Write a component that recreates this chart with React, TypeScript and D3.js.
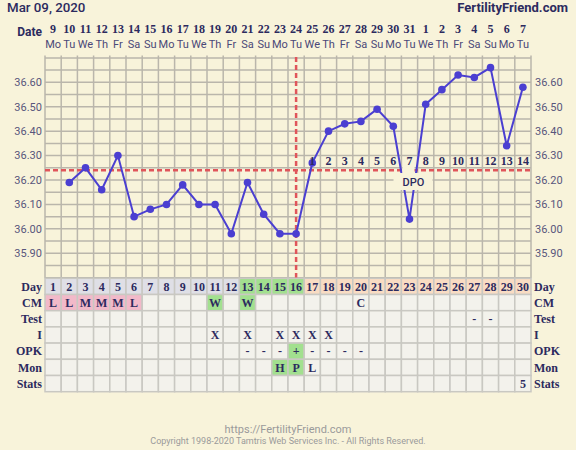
import React from 'react';
import * as d3 from 'd3';

const title = 'Mar 09, 2020';
const site = 'FertilityFriend.com';
const dates = ['9', '10', '11', '12', '13', '14', '15', '16', '17', '18', '19', '20', '21', '22', '23', '24', '25', '26', '27', '28', '29', '30', '31', '1', '2', '3', '4', '5', '6', '7'];
const weekdays = ['Mo', 'Tu', 'We', 'Th', 'Fr', 'Sa', 'Su', 'Mo', 'Tu', 'We', 'Th', 'Fr', 'Sa', 'Su', 'Mo', 'Tu', 'We', 'Th', 'Fr', 'Sa', 'Su', 'Mo', 'Tu', 'We', 'Th', 'Fr', 'Sa', 'Su', 'Mo', 'Tu'];
const cycleDays = ['1', '2', '3', '4', '5', '6', '7', '8', '9', '10', '11', '12', '13', '14', '15', '16', '17', '18', '19', '20', '21', '22', '23', '24', '25', '26', '27', '28', '29', '30'];
const temps: (number | null)[] = [null, 36.19, 36.25, 36.16, 36.30, 36.05, 36.08, 36.10, 36.18, 36.10, 36.10, 35.98, 36.19, 36.06, 35.98, 35.98, 36.27, 36.40, 36.43, 36.44, 36.49, 36.42, 36.04, 36.51, 36.57, 36.63, 36.62, 36.66, 36.34, 36.58];
const dpo = ['', '', '', '', '', '', '', '', '', '', '', '', '', '', '', '', '1', '2', '3', '4', '5', '6', '7', '8', '9', '10', '11', '12', '13', '14'];
const yTicks = [35.9, 36.0, 36.1, 36.2, 36.3, 36.4, 36.5, 36.6];
const coverline = 36.24;
const ovulationDay = 16;
const fertileDays = [13, 14, 15, 16];

const rowNames = ['CM', 'Test', 'I', 'OPK', 'Mon', 'Stats'];
const cmRow = ['L', 'L', 'M', 'M', 'M', 'L', '', '', '', '', 'W', '', 'W', '', '', '', '', '', '', 'C', '', '', '', '', '', '', '', '', '', ''];
const testRow = ['', '', '', '', '', '', '', '', '', '', '', '', '', '', '', '', '', '', '', '', '', '', '', '', '', '', '-', '-', '', ''];
const iRow = ['', '', '', '', '', '', '', '', '', '', 'X', '', 'X', '', 'X', 'X', 'X', 'X', '', '', '', '', '', '', '', '', '', '', '', ''];
const opkRow = ['', '', '', '', '', '', '', '', '', '', '', '', '-', '-', '-', '+', '-', '-', '-', '-', '', '', '', '', '', '', '', '', '', ''];
const monRow = ['', '', '', '', '', '', '', '', '', '', '', '', '', '', 'H', 'P', 'L', '', '', '', '', '', '', '', '', '', '', '', '', ''];
const statsRow = ['', '', '', '', '', '', '', '', '', '', '', '', '', '', '', '', '', '', '', '', '', '', '', '', '', '', '', '', '', '5'];
const rows = [cmRow, testRow, iRow, opkRow, monRow, statsRow];

const BG = '#f8f3da';
const NAVY = '#2c2a5e';
const SLAB = "'Liberation Serif', 'DejaVu Serif', serif";
const SANS = "Roboto, 'Noto Sans', sans-serif";

function cellFill(row: number, v: string) {
  if (row === 0 && (v === 'L' || v === 'M')) return '#f2b9c9';
  if (row === 0 && v === 'W') return '#a2e08f';
  if (row === 3 && v === '+') return '#a2e08f';
  if (row === 4 && (v === 'H' || v === 'P')) return '#a2e08f';
  return '#f3f2ec';
}

export default function App() {
  const W = 576, H = 450;
  const left = 45, right = 531;
  const x = d3.scaleLinear().domain([0, 30]).range([left, right]);
  const cx = (i: number) => x(i + 0.5);
  const y = d3.scaleLinear().domain([35.8, 36.7]).range([277.7, 57.9]);
  const rowH = 16.2;
  const tableTop = 278.3;

  const hLines = d3.range(0, 19).map(k => 35.8 + k * 0.05);
  const pts = temps.map((t, i) => ({ t, i })).filter(d => d.t !== null) as { t: number; i: number }[];
  const line = d3.line<{ t: number; i: number }>().x(d => cx(d.i)).y(d => y(d.t));
  const ovX = cx(ovulationDay - 1);
  // DPO label sits under the coverline around the day-23 dip
  const dpoX = cx(22) + 4;

  return (
    <svg width={W} height={H} style={{ position: 'absolute', left: 0, top: 0 }}>
      <rect width={W} height={H} fill={BG} />
      <text x={7} y={12} fontFamily={SANS} fontSize={13.3} fontWeight={500} fill={NAVY}>{title}</text>
      <text x={568} y={12} textAnchor="end" fontFamily={SANS} fontSize={13} fontWeight={700} fill={NAVY}>{site}</text>
      <text x={42} y={36} textAnchor="end" fontFamily={SANS} fontSize={12} fontWeight={700} fill={NAVY}>Date</text>
      {dates.map((d, i) => (
        <text key={'d' + i} x={cx(i)} y={33} textAnchor="middle" fontFamily={SLAB} fontSize={12} fontWeight={700} fill={NAVY}>{d}</text>
      ))}
      {weekdays.map((d, i) => (
        <text key={'w' + i} x={cx(i)} y={48} textAnchor="middle" fontFamily={SANS} fontSize={11} fill="#4a4878">{d}</text>
      ))}

      {/* temperature grid */}
      <g stroke="#bab6ab" strokeWidth={1.5}>
        {d3.range(0, 31).map(k => (
          <line key={'v' + k} x1={x(k)} x2={x(k)} y1={55.5} y2={tableTop} />
        ))}
        {hLines.map((v, k) => (
          <line key={'h' + k} x1={left} x2={right} y1={y(v)} y2={y(v)} />
        ))}
      </g>
      {yTicks.map(v => (
        <g key={'t' + v} fontFamily={SANS} fontSize={11} fill="#58567c">
          <text x={42} y={y(v)} dy="0.35em" textAnchor="end">{v.toFixed(2)}</text>
          <text x={535} y={y(v)} dy="0.35em">{v.toFixed(2)}</text>
        </g>
      ))}

      {/* coverline and ovulation */}
      <line x1={left} x2={right} y1={y(coverline)} y2={y(coverline)} stroke="#e0555a" strokeWidth={2.5} strokeDasharray="5,3" />
      <line x1={ovX} x2={ovX} y1={57} y2={tableTop} stroke="#e0555a" strokeWidth={2.5} strokeDasharray="5,3" />

      <path d={line(pts) ?? ''} fill="none" stroke="#4b3fd1" strokeWidth={2} />
      {pts.map(d => (
        <circle key={'p' + d.i} cx={cx(d.i)} cy={y(d.t)} r={3.8} fill="#4b3fd1" />
      ))}

      {/* DPO labels */}
      {dpo.map((d, i) => d ? (
        <text key={'dpo' + i} x={cx(i)} y={165} textAnchor="middle" fontFamily={SLAB} fontSize={12} fontWeight={700} fill={NAVY}>{d}</text>
      ) : null)}
      <rect x={402.5} y={166} width={12} height={7} fill={BG} />
      <rect x={dpoX - 20} y={173} width={39} height={17} fill={BG} />
      <text x={dpoX} y={186} textAnchor="middle" fontFamily={SANS} fontSize={11} fontWeight={500} fill={NAVY}>DPO</text>

      {/* table */}
      <g>
        {cycleDays.map((d, i) => {
          const day = i + 1;
          const fill = fertileDays.includes(day) ? '#a2e08f' : day > ovulationDay ? '#f9dcc3' : '#dfdfe6';
          return (
            <g key={'cd' + i}>
              <rect x={x(i)} y={tableTop} width={x(i + 1) - x(i)} height={rowH} fill={fill} stroke="#c9c8c2" strokeWidth={1.5} />
              <text x={cx(i)} y={tableTop + 12.3} textAnchor="middle" fontFamily={SLAB} fontSize={12} fontWeight={700} fill={NAVY}>{d}</text>
            </g>
          );
        })}
        {rows.map((r, ri) => r.map((v, i) => {
          const ty = tableTop + rowH * (ri + 1);
          return (
            <g key={'c' + ri + '-' + i}>
              <rect x={x(i)} y={ty} width={x(i + 1) - x(i)} height={rowH} fill={cellFill(ri, v)} stroke="#c9c8c2" strokeWidth={1.5} />
              {v && <text x={cx(i)} y={ty + 12.3} textAnchor="middle" fontFamily={SLAB} fontSize={12} fontWeight={700} fill={NAVY}>{v}</text>}
            </g>
          );
        }))}
        {['Day', ...rowNames].map((n, ri) => (
          <g key={'rn' + n} fontFamily={SLAB} fontSize={12} fontWeight={700} fill={NAVY}>
            <text x={42} y={tableTop + rowH * ri + 12.3} textAnchor="end">{n}</text>
            <text x={534} y={tableTop + rowH * ri + 12.3}>{n}</text>
          </g>
        ))}
      </g>

      <text x={288} y={433} textAnchor="middle" fontFamily={SANS} fontSize={11} fill="#9a9a9a">https://FertilityFriend.com</text>
      <text x={288} y={444} textAnchor="middle" fontFamily={SANS} fontSize={9} fill="#9a9a9a">Copyright 1998-2020 Tamtris Web Services Inc. - All Rights Reserved.</text>
    </svg>
  );
}
